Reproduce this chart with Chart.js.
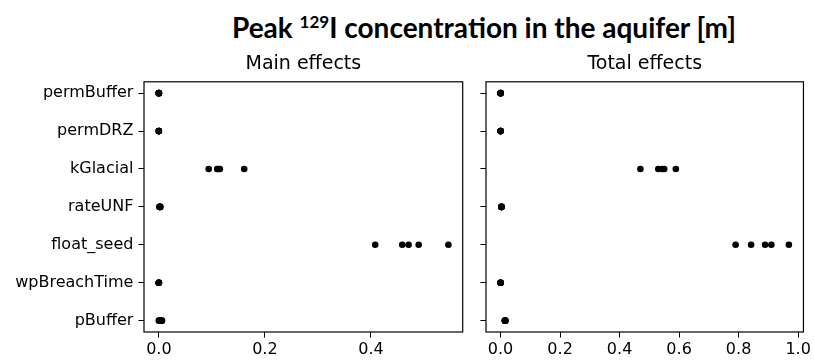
<!DOCTYPE html>
<html>
<head>
<meta charset="utf-8">
<script src="https://cdn.jsdelivr.net/npm/chart.js@4"></script>
<style>
  body { margin: 0; background: #fff; }
  #wrap { position: relative; width: 814px; height: 360px; overflow: hidden; }
  canvas { position: absolute; top: 0; }
  #title {
    position: absolute; top: 10px; left: 484px; transform: translateX(-50%);
    white-space: nowrap; font-family: Lato, sans-serif; font-weight: bold;
    font-size: 28px; color: #000;
  }
  #title sup { font-size: 17px; vertical-align: 10px; line-height: 0; }
</style>
</head>
<body>
<div id="wrap">
  <div id="title">Peak <sup>129</sup>I concentration in the aquifer [m]</div>
  <canvas id="main" width="470" height="360" style="left:0"></canvas>
  <canvas id="total" width="344" height="360" style="left:470px"></canvas>
</div>
<script>
// parameters, top to bottom
const params = ["permBuffer", "permDRZ", "kGlacial", "rateUNF", "float_seed", "wpBreachTime", "pBuffer"];

// five repeat estimates per parameter
const mainEffects = [
  [0.000, 0.000, 0.000, 0.000, 0.000],
  [0.000, 0.000, 0.000, 0.000, 0.000],
  [0.094, 0.110, 0.112, 0.115, 0.161],
  [0.001, 0.002, 0.002, 0.002, 0.003],
  [0.408, 0.459, 0.471, 0.490, 0.546],
  [0.000, 0.000, 0.000, 0.000, 0.000],
  [0.000, 0.002, 0.003, 0.005, 0.006]
];
const totalEffects = [
  [0.000, 0.000, 0.000, 0.000, 0.000],
  [0.000, 0.000, 0.000, 0.000, 0.000],
  [0.470, 0.530, 0.543, 0.550, 0.589],
  [0.003, 0.003, 0.003, 0.003, 0.003],
  [0.790, 0.842, 0.889, 0.910, 0.969],
  [0.000, 0.000, 0.000, 0.000, 0.000],
  [0.014, 0.015, 0.015, 0.016, 0.016]
];
const mainTicks = [0, 0.2, 0.4];
const totalTicks = [0, 0.2, 0.4, 0.6, 0.8, 1.0];

const tickFont = { family: "'DejaVu Sans'", size: 16 };

const frame = {
  id: "frame",
  afterDraw(chart) {
    const a = chart.chartArea, ctx = chart.ctx;
    ctx.save();
    ctx.strokeStyle = "#000";
    ctx.lineWidth = 1.2;
    ctx.strokeRect(a.left, a.top, a.right - a.left, a.bottom - a.top);
    ctx.restore();
  }
};

function makeChart(id, title, values, xmin, xmax, xticks, showLabels, yWidth, padRight) {
  const points = [];
  values.forEach((row, i) => row.forEach((v) => points.push({ x: v, y: i })));
  return new Chart(document.getElementById(id), {
    type: "scatter",
    data: {
      datasets: [{
        data: points,
        pointStyle: "circle",
        pointBackgroundColor: "#000",
        pointBorderWidth: 0,
        pointRadius: 3.3,
        pointHoverRadius: 3.3
      }]
    },
    options: {
      responsive: false,
      animation: false,
      devicePixelRatio: 1,
      events: [],
      layout: { padding: { left: 0, right: padRight, top: 53, bottom: 0 } },
      plugins: {
        legend: { display: false },
        tooltip: { enabled: false },
        title: {
          display: true,
          text: title,
          fullSize: false,
          color: "#000",
          font: { family: "'DejaVu Sans'", size: 19, weight: "normal" },
          padding: { top: 0, bottom: 6 }
        }
      },
      scales: {
        x: {
          type: "linear",
          min: xmin,
          max: xmax,
          afterBuildTicks: (s) => { s.ticks = xticks.map((v) => ({ value: v })); },
          afterFit: (s) => { s.height = 28; },
          border: { display: false },
          grid: { drawOnChartArea: false, drawTicks: true, tickLength: 5.6, color: "#000" },
          ticks: {
            color: "#000", font: tickFont, padding: 3, maxRotation: 0,
            callback: (v) => v.toFixed(1)
          }
        },
        y: {
          type: "linear",
          reverse: true,
          min: -0.3,
          max: 6.3,
          afterBuildTicks: (s) => { s.ticks = params.map((p, i) => ({ value: i })); },
          afterFit: (s) => { s.width = yWidth; },
          border: { display: false },
          grid: { drawOnChartArea: false, drawTicks: true, tickLength: 5.6, color: "#000" },
          ticks: {
            color: "#000", font: tickFont, padding: 5,
            callback: (v) => (showLabels ? params[v] : "")
          }
        }
      }
    },
    plugins: [frame]
  });
}

makeChart("main", "Main effects", mainEffects, -0.028, 0.573, mainTicks, true, 144, 7.3);
makeChart("total", "Total effects", totalEffects, -0.049, 1.018, totalTicks, false, 16, 9.7);
</script>
</body>
</html>
